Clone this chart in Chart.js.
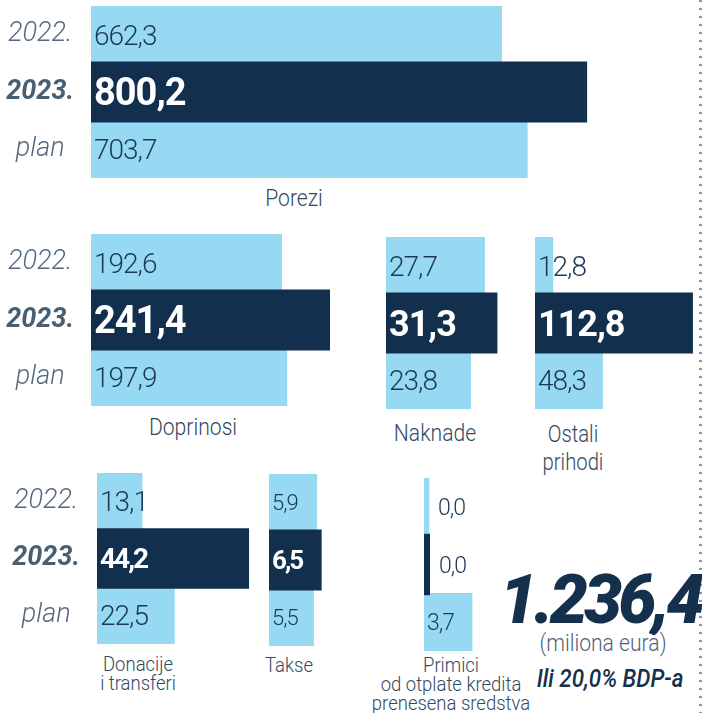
<!DOCTYPE html>
<html><head><meta charset="utf-8">
<script src="https://cdn.jsdelivr.net/npm/chart.js@4.4.1/dist/chart.umd.min.js"></script>
<style>
html,body{margin:0;padding:0;background:#fff;}
#stage{position:relative;width:702px;height:713px;overflow:hidden;font-family:Roboto,"Open Sans",sans-serif;}
#stage canvas{position:absolute;}
.lbl{position:absolute;white-space:pre;text-align:center;transform-origin:50% 50%;}
#dots{position:absolute;left:699px;top:0;width:3px;height:713px;
  background:repeating-linear-gradient(to bottom,#8d99a6 0,#8d99a6 2px,transparent 2px,transparent 8px);}
</style></head><body><div id="stage"><div id="dots"></div></div>
<script>
// ---------- data ----------
const yearLabels = ['2022.', '2023.', 'plan'];
const categories = ['Porezi', 'Doprinosi', 'Naknade', 'Ostali\nprihodi', 'Donacije\ni transferi', 'Takse', 'Primici\nod otplate kredita\nprenesena sredstva'];
const values2022 = [662.3, 192.6, 27.7, 12.8, 13.1, 5.9, 0.0];
const values2023 = [800.2, 241.4, 31.3, 112.8, 44.2, 6.5, 0.0];
const valuesPlan = [703.7, 197.9, 23.8, 48.3, 22.5, 5.5, 3.7];
const totalText = '1.236,4';
const unitText = '(miliona eura)';
const gdpText = 'Ili 20,0% BDP-a';

// ---------- styles / layout ----------
const LIGHT = '#97d9f3';
const DARK = '#12304d';
const NAVY = '#1c3856';
const GREY = '#55697c';
const FONT = 'Roboto, "Open Sans", sans-serif';

const panels = [
  {left:91,  top:6,   w:500, h:172, ppu:0.62, axisW:91, light:28, bold:38},
  {left:91,  top:234, w:240, h:172, ppu:0.99, axisW:91, light:28, bold:38},
  {left:386, top:237, w:115, h:172, ppu:3.56, light:28, bold:36},
  {left:535, top:237, w:160, h:172, ppu:1.40, light:28, bold:36},
  {left:97,  top:473, w:155, h:171, ppu:3.44, axisW:97, light:28, bold:28, boldSp:-2},
  {left:269, top:474, w:56,  h:172, ppu:8.1,  light:22, bold:26, boldSp:-2},
  {left:424, top:478, w:50,  h:173, ppu:13,   light:23, bold:23}
];
const catStyle = [
  {cx:294, top:186, size:24, lh:24},
  {cx:193, top:415, size:24, lh:24},
  {cx:435, top:421, size:24, lh:24},
  {cx:573, top:421, size:23, lh:28},
  {cx:138, top:655, size:21, lh:19},
  {cx:289, top:656, size:21, lh:19},
  {cx:451, top:656, size:21, lh:19}
];

const fmt = v => v.toFixed(1).replace('.', ',');

const valueLabelPlugin = {
  id: 'valueLabels',
  afterDatasetsDraw(chart, args, o) {
    const ctx = chart.ctx;
    chart.data.datasets.forEach((ds, di) => {
      const meta = chart.getDatasetMeta(di);
      meta.data.forEach((bar, i) => {
        const v = ds.data[i];
        if (v === null || v === undefined) return;
        const isBold = di === 0 && v !== 0;
        const size = isBold ? o.bold : o.light;
        ctx.save();
        ctx.font = (isBold ? '700 ' : '300 ') + size + 'px ' + FONT;
        ctx.fillStyle = isBold ? '#ffffff' : NAVY;
        ctx.textAlign = 'left';
        ctx.textBaseline = 'alphabetic';
        try { ctx.letterSpacing = ((isBold ? o.boldSp : o.lightSp) || -1) + 'px'; } catch (e) {}
        const x = v === 0 ? bar.x + 9 : bar.base + 3;
        ctx.fillText(fmt(v), x, bar.y + size * 0.355);
        ctx.restore();
      });
    });
  }
};

const stage = document.getElementById('stage');

panels.forEach((p, i) => {
  const hasAxis = !!p.axisW;
  const cw = (hasAxis ? p.axisW : 0) + p.w;
  const cv = document.createElement('canvas');
  cv.width = cw; cv.height = p.h;
  cv.style.left = (hasAxis ? p.left - p.axisW : p.left) + 'px';
  cv.style.top = p.top + 'px';
  cv.style.width = cw + 'px'; cv.style.height = p.h + 'px';
  stage.appendChild(cv);
  new Chart(cv, {
    type: 'bar',
    data: {
      labels: yearLabels,
      datasets: [
        {label: '2023.', data: [null, values2023[i], null], backgroundColor: DARK,
         barPercentage: 1.065, categoryPercentage: 1, minBarLength: 6, grouped: false},
        {label: '2022. / plan', data: [values2022[i], null, valuesPlan[i]], backgroundColor: LIGHT,
         barPercentage: 1, categoryPercentage: 1, minBarLength: 5, grouped: false}
      ]
    },
    options: {
      indexAxis: 'y', responsive: false, animation: false, devicePixelRatio: 1,
      layout: {padding: 0},
      plugins: {
        legend: {display: false}, tooltip: {enabled: false},
        valueLabels: {light: p.light, bold: p.bold, boldSp: p.boldSp}
      },
      scales: {
        x: {display: false, min: 0, max: p.w / p.ppu},
        y: {
          display: hasAxis,
          grid: {display: false, drawTicks: false},
          border: {display: false},
          ticks: {
            crossAlign: 'center', padding: 17,
            color: c => c.index === 1 ? '#4a5e71' : GREY,
            font: c => ({family: FONT, size: 27, style: 'italic', weight: c.index === 1 ? '700' : '300'})
          },
          afterFit(s) {
            if (hasAxis) s.width = p.axisW;
            s.paddingTop = 0; s.paddingBottom = 0;
          }
        }
      }
    },
    plugins: [valueLabelPlugin]
  });
});

function addLabel(text, cx, top, css) {
  const d = document.createElement('div');
  d.className = 'lbl';
  d.textContent = text;
  d.style.left = cx + 'px';
  d.style.top = top + 'px';
  Object.assign(d.style, css);
  stage.appendChild(d);
  return d;
}

categories.forEach((c, i) => {
  const s = catStyle[i];
  addLabel(c, s.cx, s.top, {fontSize: s.size + 'px', lineHeight: s.lh + 'px', fontWeight: '300',
    color: '#33495f', transform: 'translateX(-50%) scaleX(0.88)'});
});

addLabel(totalText, 600, 566, {fontSize: '68px', lineHeight: '68px', fontWeight: '900', fontStyle: 'italic',
  letterSpacing: '-4px', color: '#14304d', transform: 'translateX(-50%)'});
addLabel(unitText, 603, 631, {fontSize: '24px', lineHeight: '24px', fontWeight: '300',
  color: '#4f6377', transform: 'translateX(-50%) scaleX(0.88)'});
addLabel(gdpText, 610, 665, {fontSize: '26px', lineHeight: '26px', fontWeight: '500', fontStyle: 'italic',
  color: '#14304d', transform: 'translateX(-50%) scaleX(0.86)'});
</script>
</body></html>
